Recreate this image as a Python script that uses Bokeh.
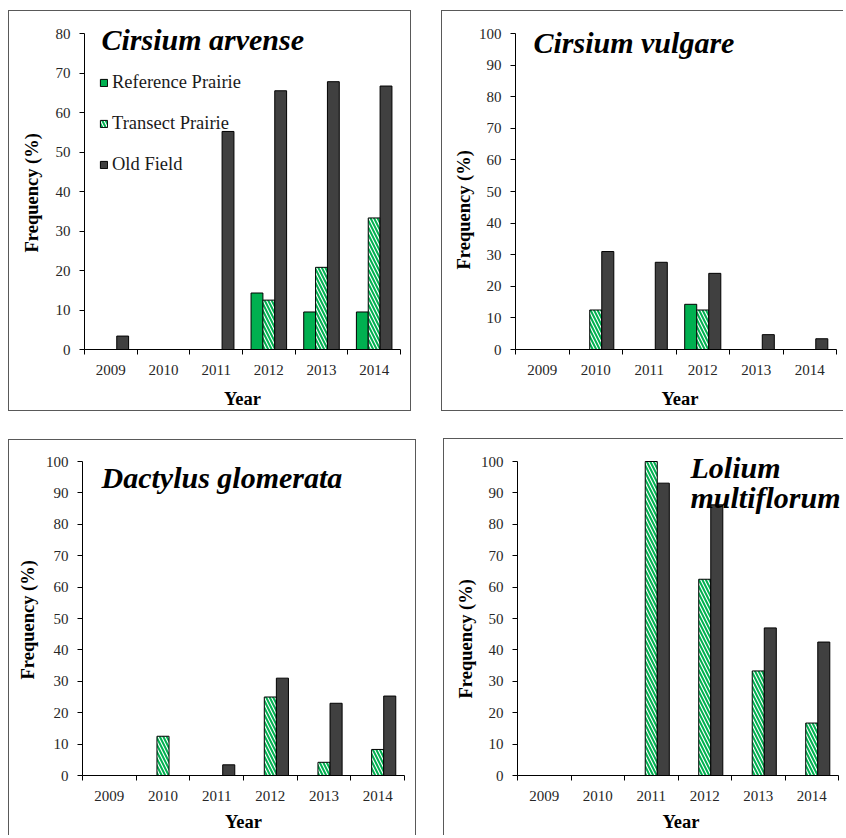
from bokeh.plotting import figure
from bokeh.models import Range1d, FixedTicker, Label, Legend, LegendItem, Title
from bokeh.layouts import row, column
from bokeh.embed import file_html
from bokeh.resources import INLINE

years = ["2009", "2010", "2011", "2012", "2013", "2014"]
series = ["Reference Prairie", "Transect Prairie", "Old Field"]

arvense_reference = [0, 0, 0, 14.3, 9.5, 9.5]
arvense_transect = [0, 0, 0, 12.5, 20.8, 33.3]
arvense_oldfield = [3.4, 0, 55.2, 65.5, 67.8, 66.7]

vulgare_reference = [0, 0, 0, 14.3, 0, 0]
vulgare_transect = [0, 12.5, 0, 12.5, 0, 0]
vulgare_oldfield = [0, 31.0, 27.6, 24.1, 4.7, 3.4]

dactylus_reference = [0, 0, 0, 0, 0, 0]
dactylus_transect = [0, 12.5, 0, 25.0, 4.2, 8.3]
dactylus_oldfield = [0, 0, 3.4, 31.0, 23.0, 25.3]

lolium_reference = [0, 0, 0, 0, 0, 0]
lolium_transect = [0, 0, 100.0, 62.5, 33.3, 16.7]
lolium_oldfield = [0, 0, 93.1, 86.2, 47.0, 42.5]

GREEN = "#00b050"
DARK = "#404040"
FONT = "Liberation Serif"
BORDER = "1px solid #595959"
BAR_W = 0.225


def panel(title_lines, ref, tra, old, ymax, width, height, geom, title_xy,
          ytitle, xlab_standoff, edges, margin, legend=False):
    # geom: frame left offset, min border right, axis gap at right, axis gap at top, frame bottom offset (px)
    left, mbr, gap_right, gap_top, bottom = geom
    n = len(years)
    frame_w = width - left - mbr
    frame_h = height - bottom
    x_end = -0.5 + n * frame_w / (frame_w - (gap_right - mbr))
    y_end = ymax * frame_h / (frame_h - gap_top)
    p = figure(width=width, height=height, x_range=Range1d(-0.5, x_end), y_range=Range1d(0, y_end),
               output_backend="svg", toolbar_location=None,
               min_border_left=left, min_border_right=mbr,
               min_border_top=0, min_border_bottom=bottom)
    p.grid.visible = False
    p.outline_line_color = None
    p.border_fill_color = None
    p.background_fill_color = None

    idx = list(range(n))
    xa = p.xaxis[0]
    xa.bounds = (-0.5, n - 0.5)
    xa.ticker = FixedTicker(ticks=idx, minor_ticks=[i - 0.5 for i in range(n + 1)])
    xa.major_label_overrides = {i: y for i, y in enumerate(years)}
    xa.major_tick_line_color = None
    xa.major_tick_in = 0
    xa.major_tick_out = 0
    xa.minor_tick_in = 0
    xa.minor_tick_out = 5
    xa.minor_tick_line_color = "black"
    xa.major_label_standoff = 10
    xa.axis_label = "Year"
    xa.axis_label_standoff = xlab_standoff
    xa.axis_label_text_font = FONT
    xa.axis_label_text_font_style = "bold"
    xa.axis_label_text_font_size = "18.5px"
    xa.axis_label_text_color = "black"

    ya = p.yaxis[0]
    ya.bounds = (0, ymax)
    ya.ticker = FixedTicker(ticks=list(range(0, ymax + 1, 10)))
    ya.minor_tick_line_color = None
    ya.major_tick_in = 0
    ya.major_tick_out = 5
    ya.major_label_standoff = 9

    for ax in (xa, ya):
        ax.axis_line_color = "black"
        ax.major_label_text_font = FONT
        ax.major_label_text_font_size = "15px"
        ax.major_label_text_color = "#262626"
    ya.major_tick_line_color = "black"

    xs_ref = [i - BAR_W for i in idx]
    xs_old = [i + BAR_W for i in idx]
    r1 = p.vbar(x=xs_ref, top=ref, width=BAR_W, bottom=0, fill_color=GREEN,
                line_color="black", line_width=1)
    r2 = p.vbar(x=idx, top=tra, width=BAR_W, bottom=0, fill_color="white",
                hatch_pattern="left_diagonal_line", hatch_color=GREEN, hatch_weight=2,
                hatch_scale=7, line_color="black", line_width=1)
    r3 = p.vbar(x=xs_old, top=old, width=BAR_W, bottom=0, fill_color=DARK,
                line_color="black", line_width=1)

    tx, ty = title_xy
    for k, line in enumerate(title_lines):
        p.add_layout(Label(x=tx, y=ty - 30 * k, x_units="screen", y_units="screen", text=line,
                           text_font=FONT, text_font_style="bold italic", text_font_size="30px",
                           text_baseline="alphabetic", text_color="black"))

    ys, yo = ytitle
    p.add_layout(Title(text="Frequency (%)", align="left", standoff=ys, offset=yo,
                       text_font=FONT, text_font_style="bold", text_font_size="18.5px",
                       text_color="black"), "left")

    if legend:
        lg = Legend(items=[LegendItem(label=series[0], renderers=[r1]),
                           LegendItem(label=series[1], renderers=[r2]),
                           LegendItem(label=series[2], renderers=[r3])],
                    location=(15, 174), orientation="vertical",
                    glyph_width=9, glyph_height=9, label_standoff=4,
                    label_height=21, spacing=20, padding=0, margin=0,
                    label_text_font=FONT, label_text_font_size="18.5px",
                    label_text_color="#1a1a1a",
                    border_line_color=None, background_fill_alpha=0)
        p.add_layout(lg)

    st = {}
    for e in ("top", "right", "bottom", "left"):
        st["border-" + e] = BORDER if e in edges else "none"
    p.styles = st
    p.margin = margin
    return p


p1 = panel(["Cirsium arvense"], arvense_reference, arvense_transect, arvense_oldfield, 80,
           403, 401, (73, 12, 12, 22, 63), (17, 310), (21, 97), 11,
           ("top", "right", "bottom", "left"), (10, 0, 0, 8), legend=True)
p2 = panel(["Cirsium vulgare"], vulgare_reference, vulgare_transect, vulgare_oldfield, 100,
           402, 401, (73, 0, 8, 22, 63), (18, 307), (4, 80), 11,
           ("top", "bottom", "left"), (10, 0, 0, 30))
p3 = panel(["Dactylus glomerata"], dactylus_reference, dactylus_transect, dactylus_oldfield, 100,
           408, 396, (73, 13, 13, 21, 61), (19, 298), (9, 96), 8,
           ("top", "right", "left"), (28, 0, 0, 8))
p4 = panel(["Lolium", "multiflorum"], lolium_reference, lolium_transect, lolium_oldfield, 100,
           400, 397, (73, 0, 6, 22, 61), (173, 308), (4, 77), 8,
           ("top", "left"), (27, 0, 0, 27))

layout = column(row(p1, p2), row(p3, p4))

with open("out.html", "w") as f:
    f.write(file_html(layout, INLINE))
